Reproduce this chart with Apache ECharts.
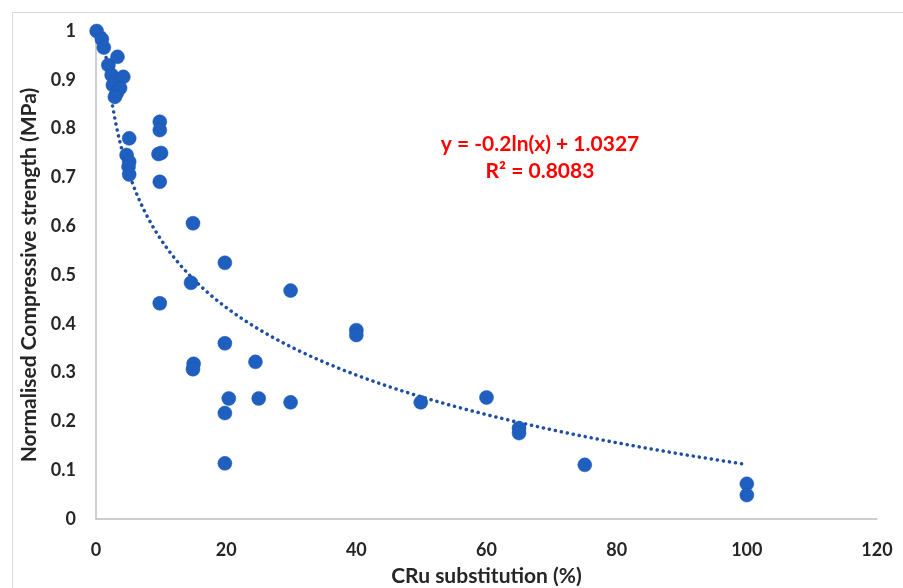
<!DOCTYPE html>
<html>
<head>
<meta charset="utf-8">
<script src="https://cdn.jsdelivr.net/npm/echarts@6/dist/echarts.min.js"></script>
<style>
  html, body { margin: 0; padding: 0; background: #fff; }
  #chart { width: 903px; height: 588px; }
</style>
</head>
<body>
<div id="chart"></div>
<script>
// CRu substitution (%) and normalised compressive strength for each specimen
const substitution = [
  0.1, 0.9, 1.2, 1.9, 2.4, 3.3, 4.2, 2.6, 3.7, 3.2, 2.9,
  9.8, 9.8, 5.1, 9.6, 10.0, 4.7, 5.1, 5.0, 5.1, 9.8,
  14.9, 19.8, 14.6, 29.9, 9.8, 19.8, 15.0, 14.9, 24.5,
  20.4, 25.0, 29.9, 19.8, 19.8,
  40, 40, 49.9, 60, 65, 65, 75.1, 100, 100
];
const strength = [
  1.000, 0.983, 0.966, 0.930, 0.910, 0.947, 0.906, 0.889, 0.883, 0.873, 0.865,
  0.814, 0.797, 0.780, 0.748, 0.750, 0.746, 0.732, 0.722, 0.706, 0.691,
  0.606, 0.525, 0.484, 0.468, 0.442, 0.360, 0.318, 0.307, 0.322,
  0.247, 0.247, 0.239, 0.217, 0.114,
  0.387, 0.377, 0.239, 0.249, 0.186, 0.176, 0.111, 0.072, 0.049
];

// Logarithmic trendline y = a ln(x) + b
const trendA = -0.2;
const trendB = 1.0327;
const trendLabel = ['y = -0.2ln(x) + 1.0327', 'R² = 0.8083'];
const xTicks = [0, 20, 40, 60, 80, 100, 120];

const points = substitution.map((x, i) => [x, strength[i]]);
const trend = [];
for (let x = 1; x <= 100; x += 0.5) trend.push([x, trendA * Math.log(x) + trendB]);

const font = 'Lato, "Open Sans", sans-serif';
const chart = echarts.init(document.getElementById('chart'), null, { renderer: 'canvas' });
chart.setOption({
  animation: false,
  backgroundColor: '#ffffff',
  grid: { left: 96, right: 26, top: 31, bottom: 69, containLabel: false, outerBoundsMode: 'none' },
  xAxis: {
    type: 'value', min: xTicks[0], max: xTicks[xTicks.length - 1], interval: 20,
    name: 'CRu substitution (%)', nameLocation: 'middle', nameGap: 47,
    nameTextStyle: { fontFamily: font, fontWeight: 'bold', fontSize: 21, color: '#262626' },
    axisLine: { show: true, lineStyle: { color: '#bfbfbf', width: 1.5 } },
    axisTick: { show: false },
    splitLine: { show: false },
    axisLabel: { fontFamily: font, fontWeight: 'bold', fontSize: 18, color: '#262626', margin: 22 }
  },
  yAxis: {
    type: 'value', min: 0, max: 1, interval: 0.1,
    name: 'Normalised Compressive strength (MPa)', nameLocation: 'middle', nameGap: 53,
    nameTextStyle: { fontFamily: font, fontWeight: 'bold', fontSize: 21, color: '#262626' },
    axisLine: { show: true, lineStyle: { color: '#bfbfbf', width: 1.5 } },
    axisTick: { show: false },
    splitLine: { show: false },
    axisLabel: {
      fontFamily: font, fontWeight: 'bold', fontSize: 18, color: '#262626', margin: 20,
      formatter: v => (v === 0 ? '0' : v === 1 ? '1' : v.toFixed(1))
    }
  },
  series: [
    {
      type: 'line', data: trend, showSymbol: false, smooth: false, clip: true,
      lineStyle: { color: '#1f4fa0', width: 3.5, type: [0.1, 6], cap: 'round' },
      z: 2
    },
    {
      type: 'scatter', data: points, symbol: 'circle', symbolSize: 14,
      itemStyle: { color: '#1f5fbf', opacity: 1, borderColor: '#1a56b0', borderWidth: 0.5 },
      z: 3
    }
  ],
  graphic: [
    {
      type: 'rect', left: 10, top: 10, silent: true,
      shape: { width: 900, height: 590 },
      style: { fill: 'none', stroke: '#d9d9d9', lineWidth: 1 }
    },
    {
      type: 'text', x: 540, y: 131, silent: true,
      style: {
        text: trendLabel.join('\n'), fill: '#ff0000', align: 'center',
        font: 'bold 21px ' + font, lineHeight: 27
      }
    }
  ]
});
</script>
</body>
</html>
